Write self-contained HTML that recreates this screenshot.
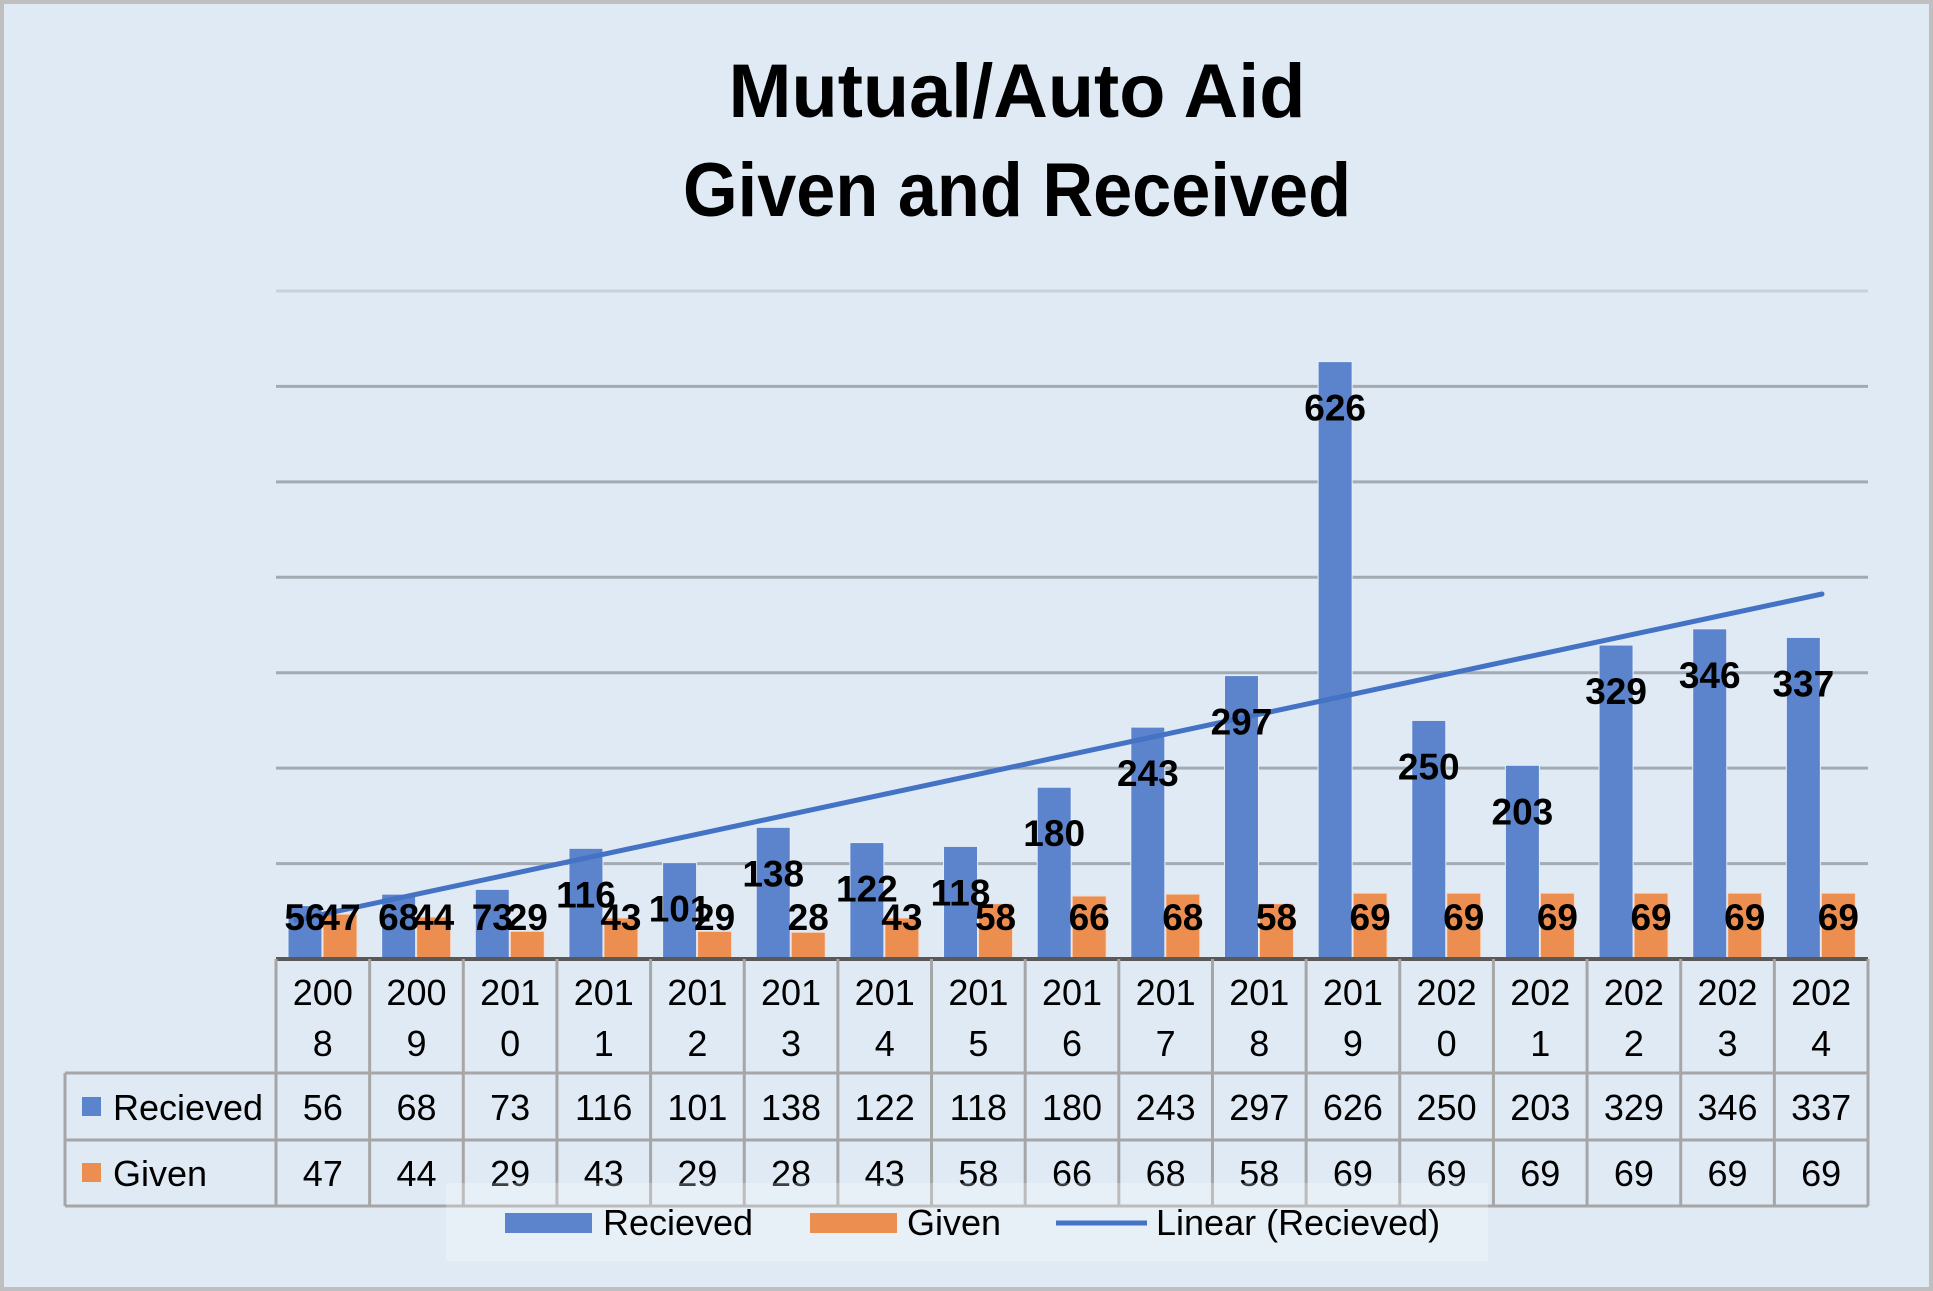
<!DOCTYPE html>
<html><head><meta charset="utf-8"><style>
html,body{margin:0;padding:0;background:#dfeaf5;}
svg{display:block;}
text{font-family:"Liberation Sans",sans-serif;}
</style></head><body>
<svg id="c" width="1933" height="1291" xmlns="http://www.w3.org/2000/svg"></svg>
<script>
const R=[56,68,73,116,101,138,122,118,180,243,297,626,250,203,329,346,337];
const G=[47,44,29,43,29,28,43,58,66,68,58,69,69,69,69,69,69];
const Y=[2008,2009,2010,2011,2012,2013,2014,2015,2016,2017,2018,2019,2020,2021,2022,2023,2024];
const L=276,RT=1868,CW=(RT-L)/17,B=959,S=(959-291)/700;
let s='';
s+=`<rect x="2" y="2" width="1929" height="1287" fill="#dfeaf5" stroke="#bfbfbf" stroke-width="4"/>`;
s+=`<text x="1017" y="117" font-size="76" font-weight="bold" text-anchor="middle" textLength="577" lengthAdjust="spacingAndGlyphs">Mutual/Auto Aid</text>`;
s+=`<text x="1017" y="216" font-size="76" font-weight="bold" text-anchor="middle" textLength="668" lengthAdjust="spacingAndGlyphs">Given and Received</text>`;
for(let i=1;i<=7;i++){const y=B-i*100*S;s+=`<line x1="${L}" x2="${RT}" y1="${y}" y2="${y}" stroke="${i==7?'#c8d2dc':'#a3aab2'}" stroke-width="3"/>`;}
let labels='';
for(let i=0;i<17;i++){
 const x=L+i*CW;
 const hr=R[i]*S,hg=G[i]*S;
 s+=`<rect x="${x+12}" y="${B-hr}" width="34" height="${hr}" fill="#5b84cc" stroke="#e8eef8" stroke-width="1"/>`;
 s+=`<rect x="${x+47}" y="${B-hg}" width="34" height="${hg}" fill="#ec8e50" stroke="#f6dccb" stroke-width="1"/>`;
 const by=Math.min(B-hr+59,930);
 labels+=`<text x="${x+29}" y="${by}" font-size="37" font-weight="bold" text-anchor="middle">${R[i]}</text>`;
 labels+=`<text x="${x+64}" y="930" font-size="37" font-weight="bold" text-anchor="middle">${G[i]}</text>`;
}
s+=`<line x1="296" y1="920" x2="1822" y2="594" stroke="#4472c4" stroke-width="5" stroke-linecap="round"/>`;
s+=labels;
s+=`<line x1="${L}" x2="${RT}" y1="${B}" y2="${B}" stroke="#595959" stroke-width="4"/>`;
const T1=1073,T2=1140,T3=1206;
s+=`<g stroke="#a6a6a6" stroke-width="3" fill="none">`;
s+=`<line x1="${RT}" x2="${RT}" y1="${B}" y2="${T3}"/>`;
s+=`<line x1="65" x2="${RT}" y1="${T1}" y2="${T1}"/><line x1="65" x2="${RT}" y1="${T2}" y2="${T2}"/><line x1="65" x2="${RT}" y1="${T3}" y2="${T3}"/>`;
s+=`<line x1="65" x2="65" y1="${T1}" y2="${T3}"/>`;
for(let i=0;i<17;i++){const x=L+i*CW;s+=`<line x1="${x}" x2="${x}" y1="${B}" y2="${T3}"/>`;}
s+=`</g>`;
for(let i=0;i<17;i++){const cx=L+i*CW+CW/2;const ys=String(Y[i]);
 s+=`<text x="${cx}" y="1005" font-size="36" text-anchor="middle">${ys.slice(0,3)}</text>`;
 s+=`<text x="${cx}" y="1056" font-size="36" text-anchor="middle">${ys.slice(3)}</text>`;
 s+=`<text x="${cx}" y="1120" font-size="36" text-anchor="middle">${R[i]}</text>`;
 s+=`<text x="${cx}" y="1186" font-size="36" text-anchor="middle">${G[i]}</text>`;
}
s+=`<rect x="82" y="1097" width="19" height="19" fill="#5b84cc"/><text x="113" y="1120" font-size="36">Recieved</text>`;
s+=`<rect x="82" y="1163" width="19" height="19" fill="#ec8e50"/><text x="113" y="1186" font-size="36">Given</text>`;
s+=`<rect x="446" y="1183" width="1042" height="78" fill="#ffffff" fill-opacity="0.25"/>`;
s+=`<rect x="505" y="1213" width="87" height="20" fill="#5b84cc"/><text x="603" y="1235" font-size="36">Recieved</text>`;
s+=`<rect x="810" y="1213" width="87" height="20" fill="#ec8e50"/><text x="907" y="1235" font-size="36">Given</text>`;
s+=`<line x1="1056" x2="1147" y1="1223" y2="1223" stroke="#4472c4" stroke-width="5"/><text x="1156" y="1235" font-size="36">Linear (Recieved)</text>`;
document.getElementById('c').innerHTML=s;
</script>
</body></html>
